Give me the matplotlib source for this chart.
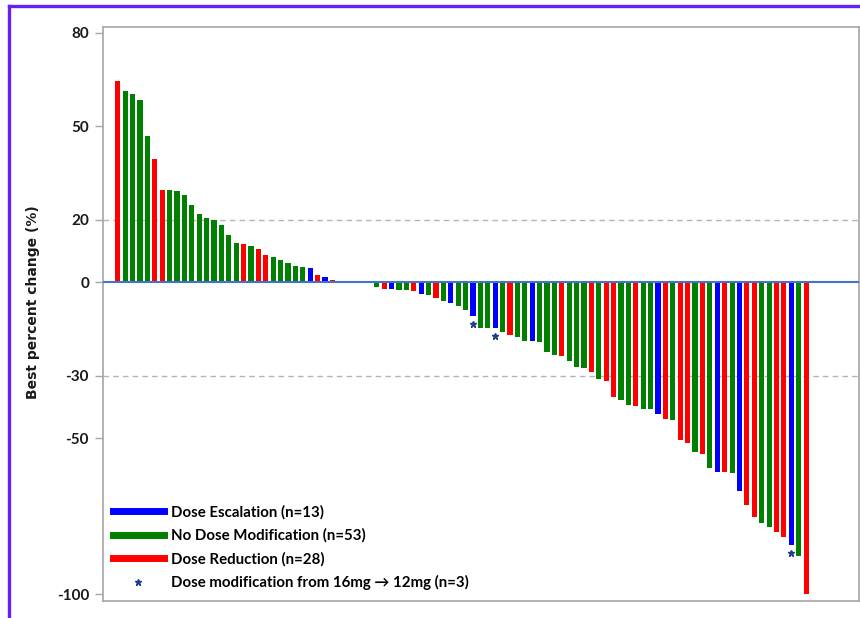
"""
Waterfall plot of best percent change from baseline, coloured by dose group.
"""
import matplotlib
matplotlib.use("Agg")
import matplotlib.pyplot as plt
from matplotlib.lines import Line2D

# best percent change per patient, sorted from largest growth to largest shrinkage
best_change = [
    64.6, 61.3, 60.4, 58.3, 46.7, 39.6, 29.6, 29.6, 29.1, 28.1,
    24.8, 21.7, 20.7, 19.8, 18.4, 15.0, 12.7, 12.1, 11.6, 10.5,
    8.7, 8.2, 7.2, 6.2, 5.3, 5.0, 4.6, 2.4, 1.6, 0.6,
    0.0, 0.0, 0.0, 0.0, 0.0,
    -1.6, -2.2, -2.2, -2.5, -2.5, -2.8, -3.7, -4.0, -5.2, -5.9,
    -6.7, -7.7, -8.8, -10.7, -14.8, -14.8, -14.8, -15.9, -17.0, -17.5,
    -18.9, -18.9, -19.3, -22.3, -23.4, -23.7, -25.2, -27.1, -27.5, -28.9,
    -31.1, -31.6, -36.8, -37.8, -39.4, -39.7, -40.8, -40.8, -42.1, -43.9,
    -44.2, -50.6, -51.7, -54.4, -55.0, -59.6, -61.0, -61.0, -61.3, -67.0,
    -71.5, -75.3, -77.1, -78.6, -80.1, -81.8, -84.2, -87.8, -100.0,
]

# E = dose escalation, N = no dose modification, R = dose reduction
dose_group = list(
    "RNNNNRRNNNNNNNNNNRNRRNNNNNERERN"[:30]
    + "NRERN"
    + "NRENNRENRNENNENNENRNNENNNRNNNRNRRNNRNNERNRRNRNERNERRNNRRENR"
)

# patients switched from 16mg to 12mg
switched = [48, 51, 91]

group_colors = {"E": "#0000FF", "N": "#008000", "R": "#FF0000"}
group_labels = {
    "E": "Dose Escalation (n=13)",
    "N": "No Dose Modification (n=53)",
    "R": "Dose Reduction (n=28)",
}
y_ticks = [80, 50, 20, 0, -30, -50, -100]

plt.rcParams["font.family"] = ["Lato", "DejaVu Sans"]

fig = plt.figure(figsize=(8.6, 6.18), dpi=100)
ax = fig.add_axes([103 / 860, 17.3 / 618, 756.3 / 860, 573.4 / 618])

x = list(range(len(best_change)))
colors = [group_colors[g] for g in dose_group]
ax.bar(x, best_change, width=0.68, color=colors, zorder=3)

for i in switched:
    ax.plot(i, best_change[i] - 2.6, marker="*", color="#1F3D8C",
            markersize=5, linestyle="none", zorder=4)

ax.axhline(0, color="#4472C4", lw=1.5, zorder=4)
for yv in (20, -30):
    ax.axhline(yv, color="#b4b4b4", lw=1.0, dashes=(4, 3), zorder=1)

ax.set_xlim(-2.0, 100.2)
ax.set_ylim(-102.1, 81.7)
ax.set_yticks(y_ticks)
ax.set_yticklabels([str(t) for t in y_ticks], fontsize=11, fontweight="bold",
                   color="#1a1a1a")
ax.set_xticks([])
ax.tick_params(axis="y", length=6, width=1, color="#a6a6a6", pad=4)
for sp in ax.spines.values():
    sp.set_color("#a6a6a6")
    sp.set_linewidth(1.2)

ax.set_ylabel("Best percent change (%)", fontsize=10, fontweight="bold",
              color="#1a1a1a", family="DejaVu Sans")
ax.yaxis.set_label_coords(-0.083, 0.52)

handles = [Line2D([], [], color=group_colors[g], lw=5) for g in "ENR"]
labels = [group_labels[g] for g in "ENR"]
handles.append(Line2D([], [], color="#1F3D8C", marker="*", markersize=5,
                      linestyle="none"))
labels.append("Dose modification from 16mg \u2192 12mg (n=3)")
ax.legend(handles, labels, loc="lower left", bbox_to_anchor=(0.013, 0.018),
          frameon=False, handlelength=3.4, handletextpad=0.45,
          labelspacing=0.6, borderpad=0, borderaxespad=0,
          prop={"size": 10.8, "weight": "bold"})

# purple frame around the figure
fig.add_artist(Line2D([9 / 860, 9 / 860], [0, 1 - 6 / 618],
                      transform=fig.transFigure, color="#6322F0", lw=2.4))
fig.add_artist(Line2D([9 / 860, 1], [1 - 6 / 618, 1 - 6 / 618],
                      transform=fig.transFigure, color="#6322F0", lw=2.4))

fig.savefig("out.png", dpi=100)
